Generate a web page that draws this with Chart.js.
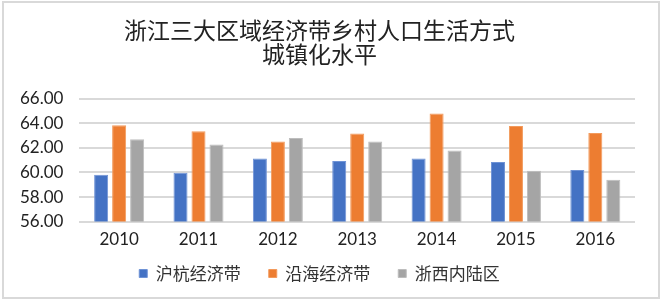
<!DOCTYPE html>
<html>
<head>
<meta charset="utf-8">
<script src="https://cdn.jsdelivr.net/npm/chart.js@4"></script>
<style>
  body { margin: 0; background: #fff; }
  #frame {
    position: absolute; left: 2px; top: 1px;
    width: 654px; height: 294px;
    border: 2px solid #d9d9d9;
  }
</style>
</head>
<body>
<div id="frame"><canvas id="chart" width="654" height="294"></canvas></div>
<script>
// chart data
const years = ['2010', '2011', '2012', '2013', '2014', '2015', '2016'];
const huhang = [59.81, 59.98, 61.15, 60.93, 61.15, 60.85, 60.20];
const yanhai = [63.84, 63.35, 62.52, 63.18, 64.80, 63.79, 63.21];
const zhexi = [62.71, 62.28, 62.80, 62.52, 61.79, 60.14, 59.40];
const seriesNames = ['沪杭经济带', '沿海经济带', '浙西内陆区'];
const titleLines = ['浙江三大区域经济带乡村人口生活方式', '城镇化水平'];

const cjk = '"Noto Sans CJK SC", sans-serif';
const latin = 'Lato, "Open Sans", sans-serif';

const legendGap = 28;   // horizontal space between legend items
const legendTrim = 13;  // height taken back from the legend box

// legend padding spaces the items apart, but should not eat plot height
const shrinkLegend = {
    id: 'shrinkLegend',
    beforeInit(chart) {
        const legend = chart.legend;
        const fit = legend.fit;
        const draw = legend.draw;
        legend.fit = function () {
            fit.call(this);
            this.height -= legendTrim;
        };
        legend.draw = function (area) {
            this.top -= legendTrim;
            draw.call(this, area);
            this.top += legendTrim;
        };
    }
};

const ctx = document.getElementById('chart').getContext('2d');

const chart = new Chart(ctx, {
    type: 'bar',
    data: {
        labels: years,
        datasets: [{
            label: seriesNames[0],
            data: huhang,
            backgroundColor: '#4472C4',
            borderColor: '#6f93d6',
            borderWidth: 1,
        }, {
            label: seriesNames[1],
            data: yanhai,
            backgroundColor: '#ED7D31',
            borderColor: '#f39a5c',
            borderWidth: 1,
        }, {
            label: seriesNames[2],
            data: zhexi,
            backgroundColor: '#A5A5A5',
            borderColor: '#bdbdbd',
            borderWidth: 1,
        }]
    },
    options: {
        responsive: false,
        animation: false,
        layout: {
            padding: { left: 0, right: 23, top: 6, bottom: 5 }
        },
        datasets: {
            bar: {
                categoryPercentage: 0.68,
                barPercentage: 0.78
            }
        },
        plugins: {
            title: {
                display: true,
                text: titleLines,
                color: '#222',
                font: { family: cjk, size: 23, weight: 'normal', lineHeight: 1.04 },
                padding: { top: 9, bottom: 33 }
            },
            legend: {
                position: 'bottom',
                labels: {
                    boxWidth: 8,
                    boxHeight: 8,
                    padding: legendGap,
                    color: '#333',
                    font: { family: cjk, size: 17 }
                }
            },
            tooltip: { enabled: false }
        },
        scales: {
            x: {
                grid: { display: false },
                border: { display: false },
                ticks: {
                    color: '#222',
                    font: { family: latin, size: 17 },
                    padding: 0
                }
            },
            y: {
                min: 56,
                max: 66,
                grid: { color: '#d9d9d9', lineWidth: 2, drawTicks: false },
                border: { display: false },
                ticks: {
                    stepSize: 2,
                    autoSkip: false,
                    color: '#222',
                    padding: 16,
                    font: { family: latin, size: 17 },
                    callback: (v) => Number(v).toFixed(2)
                }
            }
        }
    },
    plugins: [shrinkLegend]
});
</script>
</body>
</html>
